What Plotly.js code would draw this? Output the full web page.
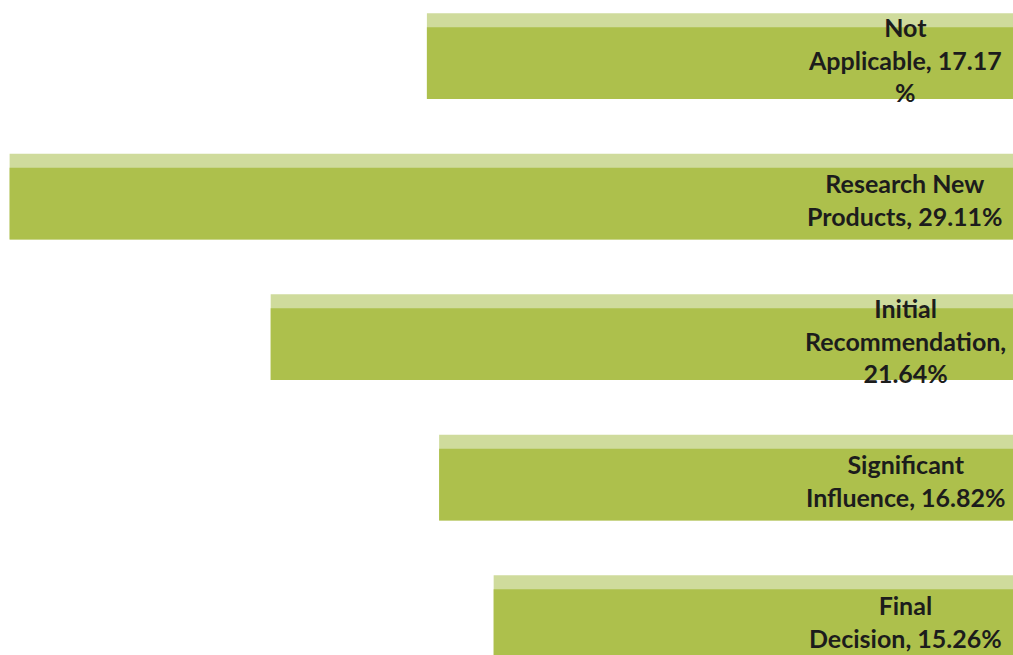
<!DOCTYPE html>
<html>
<head>
<meta charset="utf-8">
<script src="https://cdn.plot.ly/plotly-3.0.1.min.js"></script>
<style>html,body{margin:0;padding:0;background:#fff;}#chart{width:1013px;height:655px;}</style>
</head>
<body>
<div id="chart"></div>
<script>
const categories = ["Not Applicable", "Research New Products", "Initial Recommendation", "Significant Influence", "Final Decision"];
const values = [17.17, 29.11, 21.64, 16.82, 15.26];
const labelTexts = ["Not<br>Applicable, 17.17<br>%", "Research New<br>Products, 29.11%", "Initial<br>Recommendation,<br>21.64%", "Significant<br>Influence, 16.82%", "Final<br>Decision, 15.26%"];

const topFace = {
  type: 'bar', orientation: 'h', x: values, y: categories,
  width: 0.61, offset: -0.305,
  marker: {color: '#cfdb9c', line: {width: 0}},
  hoverinfo: 'skip', showlegend: false
};
const mainFace = {
  type: 'bar', orientation: 'h', x: values, y: categories,
  width: 0.51, offset: -0.205,
  marker: {color: '#adc04c', line: {width: 0}},
  hoverinfo: 'skip', showlegend: false
};

const annotations = categories.map((c, i) => ({
  x: 3.49, y: c, xref: 'x', yref: 'y', text: labelTexts[i],
  showarrow: false, xanchor: 'center', yanchor: 'middle', align: 'center',
  yshift: -3,
  font: {family: 'Lato, "Open Sans", sans-serif', size: 25, color: '#1c1c1c', weight: 700}
}));

const layout = {
  width: 1013, height: 655,
  margin: {l: 0, r: 0, t: 0, b: 0, pad: 0},
  paper_bgcolor: '#ffffff', plot_bgcolor: '#ffffff',
  barmode: 'overlay',
  showlegend: false,
  xaxis: {range: [29.385, 0.40], visible: false, showgrid: false, zeroline: false},
  yaxis: {type: 'category', range: [4.263, -0.399], visible: false, showgrid: false, zeroline: false},
  annotations: annotations
};
Plotly.newPlot('chart', [topFace, mainFace], layout, {staticPlot: true, displayModeBar: false});
</script>
</body>
</html>
